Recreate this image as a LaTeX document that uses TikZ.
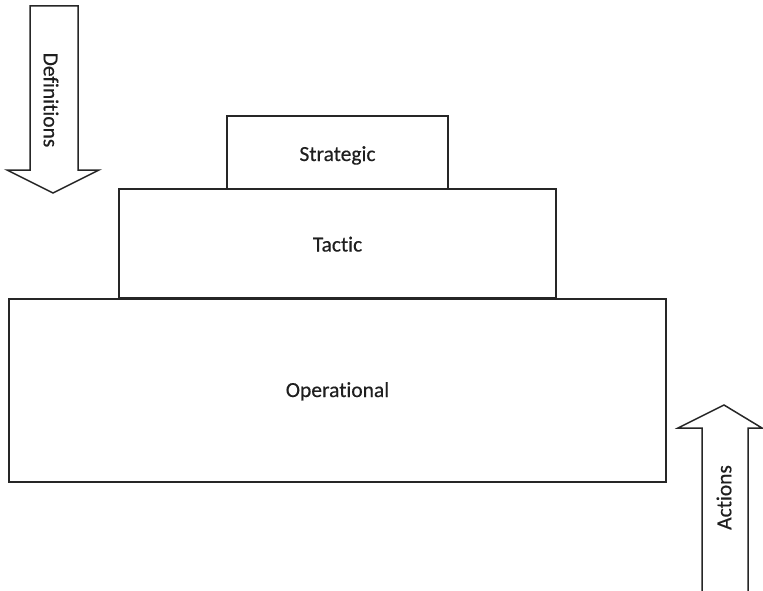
\documentclass[tikz,border=0pt]{standalone}
\usepackage{fontspec}
\setmainfont[RawFeature={-liga;-clig;-dlig;-calt},FakeBold=0.4]{Carlito}
\begin{document}
\begin{tikzpicture}[x=1pt,y=-1pt,
  level/.style={draw=black!85,line width=1.7pt,fill=white},
  bigarrow/.style={draw=black!85,line width=1.5pt,fill=white,line join=miter},
  lbl/.style={font=\fontsize{21.5}{24}\selectfont,text=black!88,inner sep=0pt}]
\useasboundingbox (0,0) rectangle (763,591);
\clip (0,0) rectangle (763,591);
% pyramid of levels
\draw[level] (227,116) rectangle (448,189);
\draw[level] (119,189) rectangle (556,298);
\draw[level] (9,299) rectangle (666,482);
\node[lbl,anchor=base] (strat) at (337.5,161) {Strategic};
\node[lbl,anchor=base] (tact) at (337.5,251.5) {Tactic};
\node[lbl,anchor=base] (oper) at (337.5,397) {Operational};
% downward block arrow
\draw[bigarrow] (30,6) -- (78,6) -- (78,170) -- (99,170) -- (53,193) -- (7,170) -- (30,170) -- cycle;
\node[lbl,rotate=-90] (defs) at (51,100) {Definitions};
% upward block arrow
\draw[bigarrow] (702,600) -- (702,428) -- (678,428) -- (724,405) -- (762,428) -- (748,428) -- (748,600);
\node[lbl,rotate=90] (acts) at (724,497.5) {Actions};
\end{tikzpicture}
\end{document}
